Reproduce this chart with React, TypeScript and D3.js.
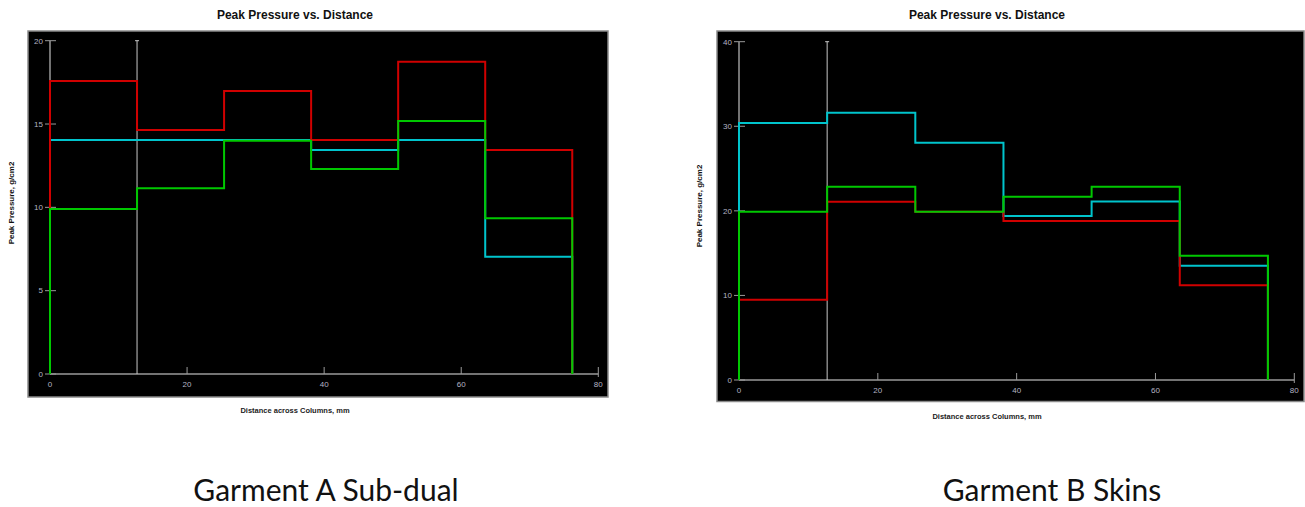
import React from "react";
import * as d3 from "d3";

const columnEdges = [0, 12.7, 25.4, 38.1, 50.8, 63.5, 76.2];
const cursorX = 12.7;

const redA = [17.58, 14.64, 16.98, 14.04, 18.74, 13.44];
const cyanA = [14.04, 14.04, 14.04, 13.44, 14.04, 7.04];
const greenA = [9.9, 11.14, 14.0, 12.3, 15.18, 9.34];

const redB = [9.5, 21.07, 19.9, 18.8, 18.8, 11.2];
const cyanB = [30.4, 31.6, 28.05, 19.4, 21.1, 13.5];
const greenB = [19.9, 22.85, 19.9, 21.67, 22.85, 14.7];

const xTicks = [0, 20, 40, 60, 80];
const yTicksA = [0, 5, 10, 15, 20];
const yTicksB = [0, 10, 20, 30, 40];

const titleText = "Peak Pressure vs. Distance";
const xLabelText = "Distance across Columns, mm";
const yLabelText = "Peak Pressure, g/cm2";
const captionA = "Garment A Sub-dual";
const captionB = "Garment B Skins";

const COLORS = { cyan: "#00c4cc", red: "#d00000", green: "#00c800" };

type Layout = {
  panel: [number, number, number, number];
  xr: [number, number];
  yr: [number, number];
  yMax: number;
  titleX: number;
  titleY: number;
  yLabelX: number;
  yLabelY: number;
  xLabelX: number;
  xLabelY: number;
  captionX: number;
  captionY: number;
};

function stepPoints(vals: number[]): [number, number][] {
  const pts: [number, number][] = [[columnEdges[0], 0]];
  vals.forEach((v, i) => pts.push([columnEdges[i], v]));
  pts.push([columnEdges[columnEdges.length - 1], 0]);
  return pts;
}

function Chart({ L, series, yTicks, caption }: { L: Layout; series: { vals: number[]; color: string }[]; yTicks: number[]; caption: string }) {
  const x = d3.scaleLinear().domain([0, 80]).range(L.xr);
  const y = d3.scaleLinear().domain([0, L.yMax]).range(L.yr);
  const line = d3.line<[number, number]>().x(d => x(d[0])).y(d => y(d[1])).curve(d3.curveStepAfter);
  const [px0, py0, px1, py1] = L.panel;
  const axisColor = "#9a9a9a";
  const tickLabelColor = "#b4b4c4";
  return (
    <g>
      <text x={L.titleX} y={L.titleY} textAnchor="middle" fontFamily="Liberation Sans, Arial, sans-serif" fontWeight="bold" fontSize={12} fill="#111">{titleText}</text>
      <rect x={px0} y={py0} width={px1 - px0} height={py1 - py0} fill="#000" stroke="#8a8a8a" strokeWidth={1.5} />
      {/* y axis */}
      <line x1={x(0)} x2={x(0)} y1={y(0)} y2={y(L.yMax)} stroke={axisColor} strokeWidth={1.5} />
      {yTicks.map(t => (
        <g key={"y" + t}>
          <line x1={x(0) - 5} x2={x(0) + 6} y1={y(t)} y2={y(t)} stroke={axisColor} strokeWidth={1} />
          <text x={x(0) - 7} y={y(t)} dy="0.35em" textAnchor="end" fontFamily="Liberation Sans, Arial, sans-serif" fontSize={8} fill={tickLabelColor}>{t}</text>
        </g>
      ))}
      {/* x axis */}
      <line x1={x(0)} x2={x(80)} y1={y(0)} y2={y(0)} stroke={axisColor} strokeWidth={1.5} />
      {xTicks.map(t => (
        <g key={"x" + t}>
          {t > 0 && <line x1={x(t)} x2={x(t)} y1={y(0) - 7} y2={t === 80 ? y(0) + 3 : y(0)} stroke={axisColor} strokeWidth={1} />}
          <text x={x(t)} y={y(0) + 13} textAnchor="middle" fontFamily="Liberation Sans, Arial, sans-serif" fontSize={8} fill={tickLabelColor}>{t}</text>
        </g>
      ))}
      {/* cursor */}
      <line x1={x(cursorX)} x2={x(cursorX)} y1={y(0)} y2={y(L.yMax)} stroke="#c8c8c8" strokeWidth={1} />
      <line x1={x(cursorX) - 2} x2={x(cursorX) + 2} y1={y(L.yMax)} y2={y(L.yMax)} stroke="#c8c8c8" strokeWidth={1} />
      {series.map((s, i) => (
        <path key={i} d={line(stepPoints(s.vals)) || ""} fill="none" stroke={s.color} strokeWidth={2} />
      ))}
      <text transform={`translate(${L.yLabelX},${L.yLabelY}) rotate(-90)`} textAnchor="middle" fontFamily="Liberation Sans, Arial, sans-serif" fontWeight="bold" fontSize={8} fill="#111">{yLabelText}</text>
      <text x={L.xLabelX} y={L.xLabelY} textAnchor="middle" fontFamily="Liberation Sans, Arial, sans-serif" fontWeight="bold" fontSize={7.5} fill="#222">{xLabelText}</text>
      <text x={L.captionX} y={L.captionY} textAnchor="middle" fontFamily="Lato, Open Sans, sans-serif" fontSize={30} fill="#111">{caption}</text>
    </g>
  );
}

const layoutA: Layout = {
  panel: [28, 31, 608, 397],
  xr: [50, 598.3],
  yr: [374, 40.7],
  yMax: 20,
  titleX: 295,
  titleY: 19,
  yLabelX: 14,
  yLabelY: 203,
  xLabelX: 295,
  xLabelY: 413,
  captionX: 326,
  captionY: 501,
};

const layoutB: Layout = {
  panel: [717, 31, 1304, 401.5],
  xr: [739, 1294.3],
  yr: [380, 41.7],
  yMax: 40,
  titleX: 987,
  titleY: 19,
  yLabelX: 702,
  yLabelY: 206,
  xLabelX: 987,
  xLabelY: 419,
  captionX: 1052,
  captionY: 501,
};

export default function App() {
  return (
    <svg width={1305} height={507} style={{ position: "absolute", left: 0, top: 0, background: "#fff" }}>
      <Chart L={layoutA} yTicks={yTicksA} caption={captionA} series={[
        { vals: cyanA, color: COLORS.cyan },
        { vals: redA, color: COLORS.red },
        { vals: greenA, color: COLORS.green },
      ]} />
      <Chart L={layoutB} yTicks={yTicksB} caption={captionB} series={[
        { vals: cyanB, color: COLORS.cyan },
        { vals: redB, color: COLORS.red },
        { vals: greenB, color: COLORS.green },
      ]} />
    </svg>
  );
}
